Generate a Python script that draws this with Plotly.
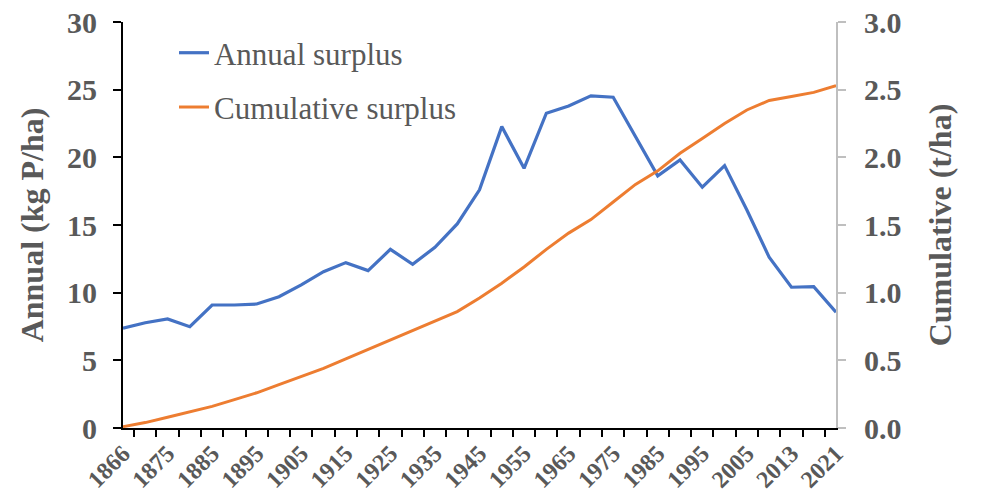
import plotly.graph_objects as go

years = ["1866", "1870", "1875", "1880", "1885", "1890", "1895", "1900", "1905", "1910",
         "1915", "1920", "1925", "1930", "1935", "1940", "1945", "1950", "1955", "1960",
         "1965", "1970", "1975", "1980", "1985", "1990", "1995", "2000", "2005", "2009",
         "2013", "2017", "2021"]
annual = [7.37, 7.78, 8.06, 7.49, 9.09, 9.09, 9.16, 9.7, 10.57, 11.55,
          12.22, 11.63, 13.2, 12.1, 13.35, 15.08, 17.6, 22.27, 19.19, 23.26,
          23.8, 24.54, 24.44, 21.53, 18.63, 19.81, 17.79, 19.39, 16.11, 12.62,
          10.4, 10.44, 8.55]
cumulative = [0.01, 0.04, 0.08, 0.12, 0.16, 0.21, 0.26, 0.32, 0.38, 0.44,
              0.51, 0.58, 0.65, 0.72, 0.79, 0.86, 0.96, 1.07, 1.19, 1.32,
              1.44, 1.54, 1.67, 1.80, 1.90, 2.03, 2.14, 2.25, 2.35, 2.42,
              2.45, 2.48, 2.53]
tick_labels = [y if i % 2 == 0 else "" for i, y in enumerate(years)]
left_ticks = [0, 5, 10, 15, 20, 25, 30]
right_ticks = [0.0, 0.5, 1.0, 1.5, 2.0, 2.5, 3.0]

SERIF = "Liberation Serif, Times New Roman, serif"
GRAY = "#595959"

fig = go.Figure()
fig.add_trace(go.Scatter(x=years, y=annual, name="Annual surplus", mode="lines",
                         line=dict(color="#4472C4", width=3.2), legendgroup="a"))
fig.add_trace(go.Scatter(x=years, y=cumulative, name="Cumulative surplus", mode="lines",
                         line=dict(color="#ED7D31", width=3), yaxis="y2", legendgroup="b"))

fig.update_layout(
    width=981, height=496,
    margin=dict(l=123, r=145, t=22, b=68),
    paper_bgcolor="white", plot_bgcolor="white",
    showlegend=True,
    legend=dict(x=0.0715, y=0.99, xanchor="left", yanchor="top",
                font=dict(family=SERIF, size=31, color=GRAY),
                bgcolor="rgba(0,0,0,0)", tracegroupgap=11),
    xaxis=dict(type="category", tickmode="array", tickvals=years, ticktext=tick_labels,
               tickson="boundaries", ticks="outside", ticklen=7, tickcolor="black", tickwidth=1.5,
               tickangle=-45, showline=True, linecolor="black", linewidth=2,
               showgrid=False, zeroline=False, automargin=False,
               tickfont=dict(family=SERIF, size=24, color=GRAY, weight="bold")),
    yaxis=dict(range=[0, 30], tickmode="array", tickvals=left_ticks,
               ticks="outside", ticklen=8, tickcolor="black", tickwidth=1.5,
               showline=True, linecolor="black", linewidth=2, showgrid=False, zeroline=False,
               automargin=False, ticklabelstandoff=10, ticklabeloverflow="allow",
               tickfont=dict(family=SERIF, size=30, color=GRAY, weight="bold"),
               title=dict(text="Annual (kg P/ha)", standoff=14,
                          font=dict(family=SERIF, size=32, color=GRAY, weight="bold"))),
    yaxis2=dict(range=[0, 3], overlaying="y", side="right", tickmode="array",
                tickvals=right_ticks, tickformat=".1f",
                ticks="outside", ticklen=8, tickcolor="#BFBFBF", tickwidth=1.5,
                showline=True, linecolor="#BFBFBF", linewidth=2, showgrid=False, zeroline=False,
                automargin=False, ticklabelstandoff=12, ticklabeloverflow="allow",
                tickfont=dict(family=SERIF, size=30, color=GRAY, weight="bold"),
                title=dict(text="Cumulative (t/ha)", standoff=28,
                           font=dict(family=SERIF, size=32, color=GRAY, weight="bold"))),
)

# remove the browser's default 8px page margin so the figure fills the window
fig.write_html("out.html", config={"displayModeBar": False},
               post_script="document.body.style.margin='0px';")
